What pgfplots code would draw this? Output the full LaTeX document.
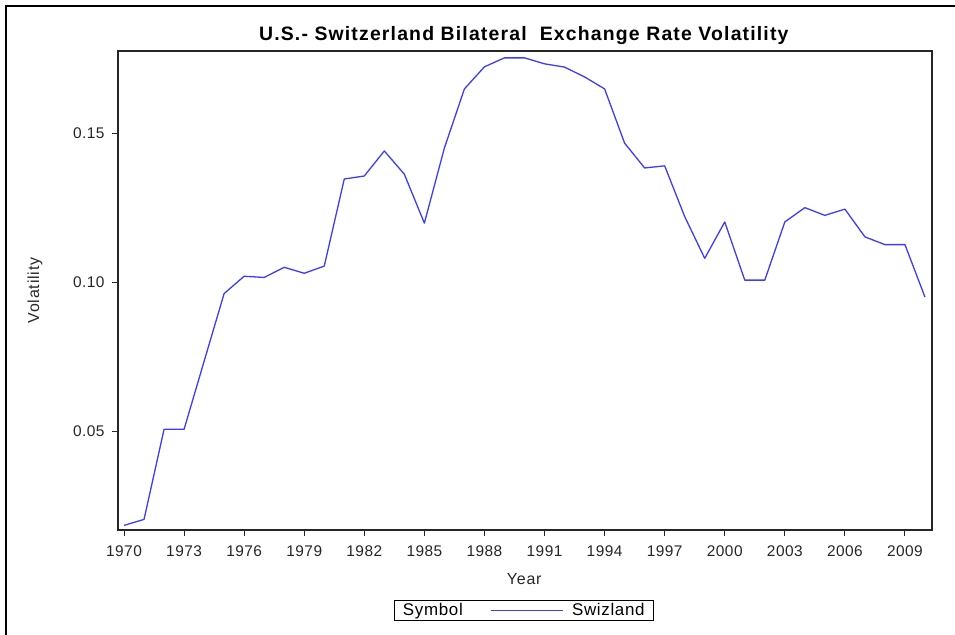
\documentclass[border=0pt]{standalone}
\usepackage{fontspec}
\setmainfont{Liberation Sans}
\usepackage{pgfplots}
\pgfplotsset{compat=1.18}

\definecolor{serblue}{RGB}{60,60,255}

\pgfplotstableread{
year vol
1970 0.0185
1971 0.0205
1972 0.0507
1973 0.0507
1974 0.0735
1975 0.0962
1976 0.1020
1977 0.1016
1978 0.1050
1979 0.1030
1980 0.1054
1981 0.1346
1982 0.1356
1983 0.1440
1984 0.1362
1985 0.1198
1986 0.1450
1987 0.1648
1988 0.1722
1989 0.1752
1990 0.1752
1991 0.1732
1992 0.1721
1993 0.1688
1994 0.1648
1995 0.1466
1996 0.1383
1997 0.1390
1998 0.1220
1999 0.1080
2000 0.1202
2001 0.1007
2002 0.1007
2003 0.1202
2004 0.1250
2005 0.1224
2006 0.1245
2007 0.1152
2008 0.1126
2009 0.1126
2010 0.0950
}\voltable

\begin{document}
\begin{tikzpicture}
\useasboundingbox (0,0) rectangle (955bp,635bp);
% partial frame of the screenshot
\draw[line width=1.4bp] (6bp,0) -- (6bp,629bp) -- (955bp,629bp);
\begin{axis}[
    at={(118bp,105bp)}, anchor=south west,
    scale only axis,
    width=814bp, height=479bp,
    xmin=1969.7, xmax=2010.35,
    ymin=0.01695, ymax=0.1775,
    axis line style={line width=1.2bp, black!85},
    xtick={1970,1973,...,2009},
    ytick={0.05,0.10,0.15},
    tick align=outside,
    major tick length=6bp,
    tick style={line width=1bp, black!85},
    xtick pos=bottom, ytick pos=left,
    xticklabel style={/pgf/number format/1000 sep={}, yshift=-6bp},
    yticklabel style={xshift=-4bp, /pgf/number format/fixed,
        /pgf/number format/fixed zerofill, /pgf/number format/precision=2},
    /pgf/number format/assume math mode=true,
    ticklabel style={font=\fontsize{15.5}{18}\selectfont\addfontfeatures{LetterSpace=3}, text=black!85},
    xlabel={Year}, ylabel={Volatility},
    label style={font=\fontsize{16}{19}\selectfont\addfontfeatures{LetterSpace=5}, text=black!85},
    xlabel style={at={(axis description cs:0.499,-0.103)}, anchor=center},
    ylabel style={at={(axis description cs:-0.102,0.5)}, anchor=center},
    every axis title shift=0pt,
    title={U.S.- Switzerland Bilateral\ \ Exchange Rate Volatility},
    title style={font=\bfseries\fontsize{19.5}{23}\selectfont\addfontfeatures{LetterSpace=6}, at={(axis description cs:0.4985,1.033)}, anchor=center},
    legend columns=2,
    legend style={at={(axis description cs:0.4985,-0.168)}, anchor=center,
        draw=black, line width=0.9bp, inner xsep=7bp, inner ysep=1.5bp,
        font=\fontsize{17}{19}\selectfont\addfontfeatures{LetterSpace=4},
        /tikz/every even column/.append style={column sep=26bp}},
    legend image code/.code={\draw[#1] (0bp,0bp) -- (72bp,0bp); \path (78bp,0bp);},
]
\addlegendimage{empty legend}
\addlegendentry{Symbol}
\addplot[serblue, line width=1.3bp, line join=round] table[x=year, y=vol] {\voltable};
\addlegendentry{Swizland}
\end{axis}
\end{tikzpicture}
\end{document}
